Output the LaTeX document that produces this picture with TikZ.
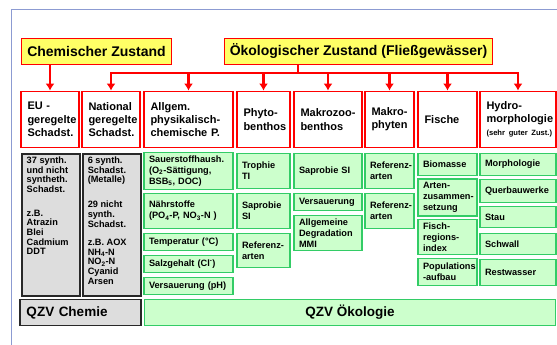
\documentclass[tikz,border=0pt]{standalone}
\usepackage{fontspec}
\setmainfont{Liberation Sans}
\usetikzlibrary{arrows.meta}

\definecolor{gelbFill}{RGB}{255,255,102}
\definecolor{gruenFill}{RGB}{204,255,204}
\definecolor{gruenRand}{RGB}{51,204,102}
\definecolor{grauFill}{RGB}{221,221,221}
\definecolor{grauRand}{RGB}{40,40,40}
\definecolor{rahmenBlau}{RGB}{140,155,210}

\newcommand{\keintrenn}{\hyphenpenalty=10000\exhyphenpenalty=10000\relax}

\tikzset{
	ueber/.style={draw=red, line width=1.8pt, fill=gelbFill, minimum height=26pt,
		font=\bfseries\fontsize{14}{16}\selectfont},
	kopf/.style={draw=red, line width=1.8pt, fill=white, minimum height=56pt,
		inner xsep=6.5pt, align=left, font=\bfseries\fontsize{11}{13.3}\selectfont\keintrenn},
	gruen/.style={draw=gruenRand, fill=gruenFill, line width=1.5pt, inner xsep=5pt,
		align=left, font=\bfseries\fontsize{9.2}{10.8}\selectfont\keintrenn},
	grau/.style={draw=grauRand, fill=grauFill, line width=1.5pt, inner xsep=5pt,
		inner ysep=3pt, anchor=north west, font=\bfseries\fontsize{9.2}{9.6}\selectfont\keintrenn},
	pfeil/.style={red, line width=2.2pt, -{Latex[length=7pt,width=9pt]}},
	ast/.style={red, line width=2.2pt, line cap=rect},
}

\begin{document}
\begin{tikzpicture}[x=1pt, y=-1pt]
	\useasboundingbox (0,0) rectangle (557,345);
	\draw[rahmenBlau, line width=1.5pt] (11.5,345) -- (11.5,9.5) -- (557,9.5);

	% obere Kaesten
	\node[ueber, minimum width=150pt] (chem) at (96.5,51.5) {Chemischer Zustand};
	\node[ueber, minimum width=268pt] (oeko) at (358.5,51.5) {Ökologischer Zustand (Fließgewässer)};

	% Kopfzeile
	\node[kopf, text width=45pt] (eu) at (50,119.5) {EU -\\geregelte\\Schadst.};
	\node[kopf, text width=45pt] (nat) at (111,119.5) {National\\geregelte\\Schadst.};
	\node[kopf, text width=76pt] (allg) at (188.5,119.5) {Allgem.\\physikalisch-\\chemische P.};
	\node[kopf, text width=40pt] (phyto) at (263.5,119.5) {Phyto-\\benthos};
	\node[kopf, text width=55pt] (makrozoo) at (328,119.5) {Makrozoo-\\benthos};
	\node[kopf, text width=36pt] (makrophyt) at (389.5,119.5) {Makro-\\phyten};
	\node[kopf, text width=46pt] (fische) at (447.5,119.5) {Fische};
	\node[kopf, text width=63pt] (hydro) at (518,119.5)
	{Hydro-\\morphologie\\{\fontsize{7.6}{9}\selectfont\mbox{(sehr guter Zust.)}}};

	\draw[pfeil] (chem.south -| eu.north) -- (eu.north);
	\coordinate (verteil) at (298,73);
	\draw[ast] (oeko.south -| verteil) -- (verteil);
	\draw[ast] (verteil -| nat.north) -- (verteil -| hydro.north);
	\foreach \k in {nat, allg, phyto, makrozoo, makrophyt, fische, hydro}
		\draw[pfeil] (verteil -| \k.north) -- (\k.north);

	% Chemie
	\node[grau] (eugrau) at (21,153) {\parbox[t][136pt][t]{48pt}{\keintrenn 37 synth.\\und nicht\\syntheth.\\Schadst.\\[14.4pt]z.B.\\Atrazin\\Blei\\Cadmium\\DDT}};
	\node[grau] (natgrau) at (82,153) {\parbox[t][136pt][t]{48pt}{\keintrenn 6 synth.\\Schadst.\\(Metalle)\\[15.6pt]29 nicht\\synth.\\Schadst.\\[9pt]z.B. AOX\\NH\textsubscript{4}-N\\NO\textsubscript{2}-N\\Cyanid\\Arsen}};

	% allgemein physikalisch-chemisch
	\node[gruen, text width=79pt, minimum height=35pt] (sauer) at (188.5,171) {Sauerstoffhaush.\\(O\textsubscript{2}-Sättigung,\\BSB\textsubscript{5}, DOC)};
	\node[gruen, text width=79pt, minimum height=35pt] (naehr) at (188.5,211) {Nährstoffe\\(PO\textsubscript{4}-P, NO\textsubscript{3}-N )};
	\node[gruen, text width=79pt, minimum height=17pt] (temp) at (188.5,242) {Temperatur (°C)};
	\node[gruen, text width=79pt, minimum height=17pt] (salz) at (188.5,264) {Salzgehalt (Cl\textsuperscript{-})};
	\node[gruen, text width=79pt, minimum height=17pt] (versph) at (188.5,286) {Versauerung (pH)};

	% Phytobenthos
	\node[gruen, text width=43pt, minimum height=35pt] (trophie) at (263.5,171) {Trophie\\TI};
	\node[gruen, text width=43pt, minimum height=35pt] (saprophyto) at (263.5,211) {Saprobie\\SI};
	\node[gruen, text width=43pt, minimum height=34pt] (refphyto) at (263.5,250.5) {Referenz-\\arten};

	% Makrozoobenthos
	\node[gruen, text width=58pt, minimum height=35pt] (saprozoo) at (328,171) {Saprobie SI};
	\node[gruen, text width=58pt, minimum height=17pt] (verszoo) at (328,202) {Versauerung};
	\node[gruen, text width=58pt, minimum height=35pt] (mmi) at (328,233) {Allgemeine\\Degradation\\MMI};

	% Makrophyten
	\node[gruen, text width=39pt, minimum height=35pt] (refmak1) at (389.5,171) {Referenz-\\arten};
	\node[gruen, text width=39pt, minimum height=35pt] (refmak2) at (389.5,211) {Referenz-\\arten};

	% Fische
	\node[gruen, text width=49pt, minimum height=22pt] (biomasse) at (447.5,164.5) {Biomasse};
	\node[gruen, text width=49pt, minimum height=36pt] (arten) at (447.5,197.5) {Arten-\\zusammen-\\setzung};
	\node[gruen, text width=49pt, minimum height=35pt] (fischreg) at (447.5,237) {Fisch-\\regions-\\index};
	\node[gruen, text width=49pt, minimum height=27pt] (popaufbau) at (447.5,272) {Populations\\-aufbau};

	% Hydromorphologie
	\node[gruen, text width=66pt, minimum height=22pt] (morph) at (518,164.5) {Morphologie};
	\node[gruen, text width=66pt, minimum height=23pt] (querbau) at (518,191) {Querbauwerke};
	\node[gruen, text width=66pt, minimum height=21pt] (stau) at (518,217) {Stau};
	\node[gruen, text width=66pt, minimum height=21pt] (schwall) at (518,244) {Schwall};
	\node[gruen, text width=66pt, minimum height=26pt] (restw) at (518,272.5) {Restwasser};

	% QZV
	\node[grau, anchor=center, minimum width=121pt, minimum height=26pt, text width=108pt,
		inner xsep=6.5pt, align=left, font=\bfseries\fontsize{13.5}{15}\selectfont] (qzvchem) at (80.5,312.5) {QZV Chemie};
	\node[gruen, align=center, minimum width=411pt, minimum height=26pt,
		font=\bfseries\fontsize{13.5}{15}\selectfont] (qzvoeko) at (350,312.5) {QZV Ökologie};
\end{tikzpicture}
\end{document}
